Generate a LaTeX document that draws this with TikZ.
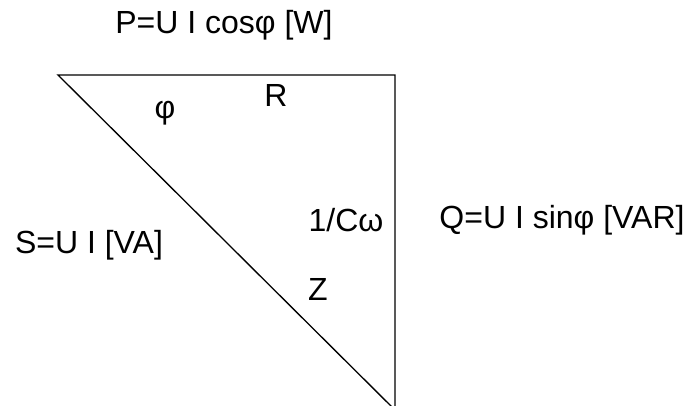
\documentclass[tikz,border=0pt]{standalone}
\usepackage{fontspec}
\setmainfont{Liberation Sans}
\definecolor{darkline}{HTML}{000000}
\tikzset{
  side/.style={draw=darkline, line width=1pt},
  label/.style={font=\fontsize{24}{28}\selectfont, inner sep=0pt}
}

\begin{document}
\begin{tikzpicture}[x=0.75pt, y=-0.75pt]

\useasboundingbox (0,0) rectangle (689,405);

\coordinate (left) at (58,75);
\coordinate (right) at (395,75);
\coordinate (bottom) at (395,410);

\draw[side] (left) -- (right) -- (bottom) -- cycle;

\node[label] (power) at (224,25) {P=U I cosφ [W]};
\node[label] (apparent) at (89,245) {S=U I [VA]};
\node[label] (reactive) at (562,220) {Q=U I sinφ [VAR]};
\node[label] (angle) at (165,113) {φ};
\node[label] (resist) at (276,95) {R};
\node[label] (capac) at (346,220) {1/Cω};
\node[label] (imped) at (318,289) {Z};

\end{tikzpicture}
\end{document}
